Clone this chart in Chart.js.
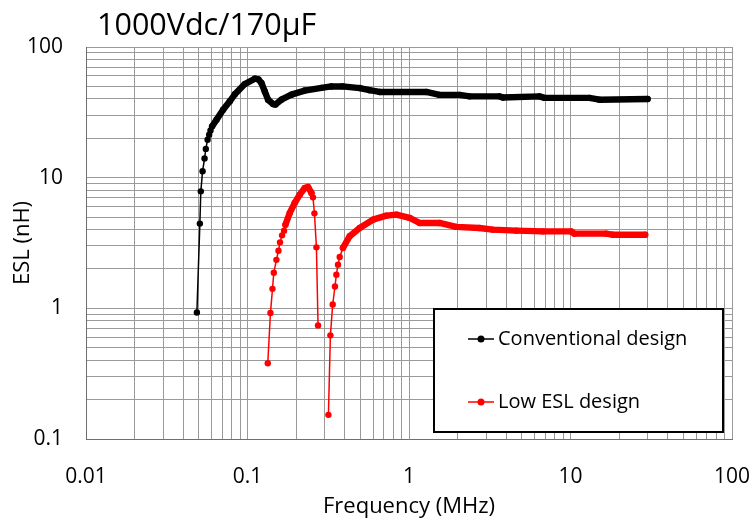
<!DOCTYPE html>
<html>
<head>
<meta charset="utf-8">
<title>ESL vs Frequency</title>
<script src="https://cdn.jsdelivr.net/npm/chart.js@4.4.1/dist/chart.umd.min.js"></script>
<style>
  html, body { margin: 0; padding: 0; background: #fff; }
  canvas { display: block; }
</style>
</head>
<body>
<canvas id="eslChart" width="752" height="522"></canvas>
<script>
// Datos (frecuencia en MHz, ESL en nH)
const chartTitle = '1000Vdc/170µF';
const seriesNames = ['Conventional design', 'Low ESL design'];
const xTickLabels = ['0.01', '0.1', '1', '10', '100'];
const yTickLabels = ['0.1', '1', '10', '100'];

const convFreq = [0.0486, 0.0507, 0.0514, 0.0527, 0.0542, 0.0552, 0.0566, 0.0579, 0.059, 0.0604,
    0.0643, 0.0706, 0.0777, 0.0835, 0.0962, 0.111, 0.117, 0.122, 0.128, 0.134,
    0.144, 0.149, 0.162, 0.187, 0.226, 0.287, 0.33, 0.388, 0.495, 0.57,
    0.658, 1.28, 1.546, 2.06, 2.37, 3.63, 3.81, 6.42, 6.9, 13.1,
    15.1, 30];
const convEsl = [0.93, 4.45, 7.86, 11.2, 14.0, 16.6, 19.5, 21.3, 23.0, 24.7,
    27.8, 33.1, 38.4, 43.5, 52.0, 57.2, 56.5, 53.0, 45.7, 39.5,
    36.6, 36.3, 39.5, 43.2, 46.4, 48.7, 49.9, 50.0, 48.5, 46.7,
    45.3, 45.3, 43.0, 43.0, 41.9, 41.9, 41.1, 41.9, 40.8, 40.8,
    39.5, 40.0];

// null = tramo sin dato (hueco en la curva)
const lowFreq = [0.1335, 0.1387, 0.1428, 0.1455, 0.151, 0.1555, 0.159, 0.1637, 0.1684, 0.1718,
    0.1827, 0.196, 0.2106, 0.2262, 0.237, 0.2488, 0.2544, 0.2597, 0.2672, 0.2734,
    0.295,
    0.317, 0.326, 0.337, 0.348, 0.355, 0.3634, 0.3723, 0.39, 0.429, 0.495,
    0.598, 0.724, 0.835, 1.01, 1.163, 1.546, 1.96, 2.73, 3.3, 4.61,
    6.73, 10.1, 10.57, 16.6, 18.2, 29];
const lowEsl = [0.38, 0.92, 1.41, 1.87, 2.35, 2.76, 3.2, 3.62, 3.93, 4.37,
    5.37, 6.4, 7.41, 8.34, 8.49, 7.64, 7.07, 5.33, 2.93, 0.74,
    null,
    0.153, 0.621, 1.07, 1.47, 1.81, 2.16, 2.47, 2.9, 3.56, 4.12,
    4.77, 5.12, 5.21, 4.92, 4.5, 4.5, 4.2, 4.12, 4.0, 3.93,
    3.88, 3.88, 3.73, 3.73, 3.66, 3.66];

// Tramos donde la medida es muy densa y se ve como línea gruesa (índices)
const convDenseRanges = [[9, convFreq.length - 1]];
const lowDenseRanges = [[9, 15], [28, lowFreq.length - 1]];

const colors = {
    conv: '#000000',
    low: '#ff0000',
    grid: '#9a9a9a',
    text: '#000000'
};

const FONT = "'Open Sans', 'Noto Sans', sans-serif";

function toPoints(xs, ys) {
    return xs.map((x, i) => ({ x: x, y: ys[i] }));
}

function inDense(ranges, i0, i1) {
    return ranges.some(r => i0 >= r[0] && i1 <= r[1]);
}

// Líneas de cuadrícula en 1..9 x 10^n
function logGridTicks(min, max) {
    const ticks = [];
    for (let e = Math.round(Math.log10(min)); e < Math.round(Math.log10(max)); e++) {
        for (let m = 1; m < 10; m++) {
            ticks.push({ value: Number((m * Math.pow(10, e)).toPrecision(12)) });
        }
    }
    ticks.push({ value: max });
    return ticks;
}

function decadeLabel(labels, value) {
    const lbl = labels.find(l => Math.abs(Math.log10(parseFloat(l)) - Math.log10(value)) < 1e-6);
    return lbl || '';
}

// Título y leyenda dibujados a mano (la leyenda va dentro del área del gráfico)
const extrasPlugin = {
    id: 'extras',
    afterDraw(chart) {
        const ctx = chart.ctx;
        ctx.save();
        ctx.fillStyle = colors.text;
        ctx.font = '30.5px ' + FONT;
        ctx.textAlign = 'left';
        ctx.textBaseline = 'alphabetic';
        ctx.fillText(chartTitle, 97, 35);

        // caja de la leyenda
        const bx = 434, by = 309, bw = 289, bh = 123;
        ctx.fillStyle = '#ffffff';
        ctx.fillRect(bx, by, bw, bh);
        ctx.strokeStyle = '#000000';
        ctx.lineWidth = 2;
        ctx.strokeRect(bx, by, bw, bh);

        const rows = [339, 402];
        chart.data.datasets.forEach((ds, i) => {
            const y = rows[i];
            ctx.strokeStyle = ds.borderColor;
            ctx.lineWidth = 1.5;
            ctx.beginPath();
            ctx.moveTo(468, y);
            ctx.lineTo(494, y);
            ctx.stroke();
            ctx.fillStyle = ds.borderColor;
            ctx.beginPath();
            ctx.arc(481, y, 3.5, 0, Math.PI * 2);
            ctx.fill();
            ctx.fillStyle = colors.text;
            ctx.font = '20px ' + FONT;
            ctx.textBaseline = 'middle';
            ctx.fillText(ds.label, 498, y);
        });
        ctx.restore();
    }
};

function makeDataset(label, xs, ys, color, ranges) {
    return {
        label: label,
        data: toPoints(xs, ys),
        borderColor: color,
        backgroundColor: color,
        pointBackgroundColor: color,
        pointBorderWidth: 0,
        pointRadius: 3.2,
        pointHoverRadius: 3.2,
        borderWidth: 1.5,
        borderJoinStyle: 'round',
        borderCapStyle: 'round',
        tension: 0,
        spanGaps: false,
        segment: {
            borderWidth: ctx => inDense(ranges, ctx.p0DataIndex, ctx.p1DataIndex) ? 6.4 : 1.5
        }
    };
}

const eslChart = new Chart(document.getElementById('eslChart').getContext('2d'), {
    type: 'line',
    data: {
        datasets: [
            makeDataset(seriesNames[0], convFreq, convEsl, colors.conv, convDenseRanges),
            makeDataset(seriesNames[1], lowFreq, lowEsl, colors.low, lowDenseRanges)
        ]
    },
    options: {
        responsive: false,
        animation: false,
        layout: {
            padding: { top: 47, right: 20, left: 0, bottom: 0 }
        },
        plugins: {
            legend: { display: false },
            tooltip: { enabled: false },
            title: { display: false }
        },
        scales: {
            x: {
                type: 'logarithmic',
                min: 0.01,
                max: 100,
                afterBuildTicks: scale => { scale.ticks = logGridTicks(0.01, 100); },
                afterFit: scale => {
                    scale.height = 83;
                    scale.paddingLeft = 0;
                    scale.paddingRight = 0;
                },
                grid: { color: colors.grid, lineWidth: 1, drawTicks: false },
                border: { display: true, color: '#6f6f6f', width: 1 },
                ticks: {
                    autoSkip: false,
                    maxRotation: 0,
                    padding: 25,
                    color: colors.text,
                    font: { family: FONT, size: 21 },
                    callback: value => decadeLabel(xTickLabels, value)
                },
                title: {
                    display: true,
                    text: 'Frequency (MHz)',
                    color: colors.text,
                    font: { family: FONT, size: 22 },
                    padding: { top: 0, bottom: 2 }
                }
            },
            y: {
                type: 'logarithmic',
                min: 0.1,
                max: 100,
                afterBuildTicks: scale => { scale.ticks = logGridTicks(0.1, 100); },
                afterFit: scale => {
                    scale.width = 86;
                    scale.paddingTop = 0;
                    scale.paddingBottom = 0;
                },
                grid: { color: colors.grid, lineWidth: 1, drawTicks: false },
                border: { display: true, color: '#6f6f6f', width: 1 },
                ticks: {
                    autoSkip: false,
                    padding: 23,
                    color: colors.text,
                    font: { family: FONT, size: 21 },
                    callback: value => decadeLabel(yTickLabels, value)
                },
                title: {
                    display: true,
                    text: 'ESL (nH)',
                    color: colors.text,
                    font: { family: FONT, size: 22 },
                    padding: { top: 10, bottom: 0 }
                }
            }
        }
    },
    plugins: [extrasPlugin]
});
</script>
</body>
</html>
